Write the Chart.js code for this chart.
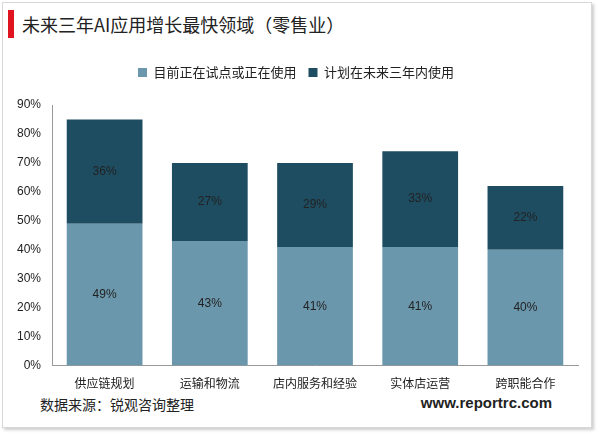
<!DOCTYPE html>
<html>
<head>
<meta charset="utf-8">
<script src="https://cdn.jsdelivr.net/npm/chart.js@4/dist/chart.umd.min.js"></script>
<style>
  body { margin: 0; background: #fff; font-family: "Noto Sans CJK SC", sans-serif; }
  .frame { position: absolute; left: 2px; top: 2px; width: 588px; height: 424px; border: 1px solid #d8d8d8; box-shadow: 2px 2px 3px #ccc; }
  .title { position: absolute; left: 8px; top: 10px; height: 28px; border-left: 6px solid #e0141e; padding-left: 8px; font-size: 18px; line-height: 28px; color: #222; }
  .source { position: absolute; left: 40px; top: 394px; font-size: 14px; color: #222; }
  .site { position: absolute; right: 48px; top: 394px; font-size: 15px; font-weight: bold; color: #222; font-family: Arial, "Liberation Sans", sans-serif; }
  #wrap { position: absolute; left: 14px; top: 54px; width: 572px; height: 340px; }
</style>
</head>
<body>
<div class="frame"></div>
<div class="title">未来三年AI应用增长最快领域（零售业）</div>
<div id="wrap"><canvas id="c"></canvas></div>
<div class="source">数据来源：锐观咨询整理</div>
<div class="site">www.reportrc.com</div>
<script>
const categories = ['供应链规划', '运输和物流', '店内服务和经验', '实体店运营', '跨职能合作'];
const currentUse = [49, 43, 41, 41, 40];
const plannedUse = [36, 27, 29, 33, 22];

// 在柱子中间写百分比
const barLabels = {
  id: 'barLabels',
  afterDatasetsDraw(chart) {
    const ctx = chart.ctx;
    ctx.save();
    ctx.font = '12px Arial, "Liberation Sans", sans-serif';
    ctx.fillStyle = '#222';
    ctx.textAlign = 'center';
    ctx.textBaseline = 'middle';
    chart.data.datasets.forEach((ds, i) => {
      chart.getDatasetMeta(i).data.forEach((bar, j) => {
        ctx.fillText(ds.data[j] + '%', bar.x, (bar.y + bar.base) / 2);
      });
    });
    ctx.restore();
  }
};

// 图例与图表之间留出空间
const legendGap = {
  id: 'legendGap',
  beforeInit(chart) {
    const fit = chart.legend.fit;
    chart.legend.fit = function () { fit.bind(chart.legend)(); this.height += 16; };
  }
};

new Chart(document.getElementById('c'), {
  type: 'bar',
  data: {
    labels: categories,
    datasets: [
      { label: '目前正在试点或正在使用', data: currentUse, backgroundColor: '#6b97ac' },
      { label: '计划在未来三年内使用', data: plannedUse, backgroundColor: '#1e4d62' }
    ]
  },
  options: {
    responsive: true,
    maintainAspectRatio: false,
    animation: false,
    categoryPercentage: 0.72,
    barPercentage: 1,
    layout: { padding: { right: 8 } },
    plugins: {
      legend: {
        position: 'top',
        labels: { boxWidth: 9, boxHeight: 9, padding: 12, color: '#222', font: { size: 13, family: '"Noto Sans CJK SC"' } }
      },
      tooltip: { enabled: false }
    },
    scales: {
      x: {
        stacked: true,
        grid: { display: false },
        border: { color: '#999' },
        ticks: { color: '#222', font: { size: 12, family: '"Noto Sans CJK SC"' } }
      },
      y: {
        stacked: true,
        min: 0, max: 90,
        grid: { display: false },
        border: { color: '#999' },
        ticks: { stepSize: 10, color: '#222', font: { size: 12 }, callback: v => v + '%' }
      }
    }
  },
  plugins: [barLabels, legendGap]
});
</script>
</body>
</html>
